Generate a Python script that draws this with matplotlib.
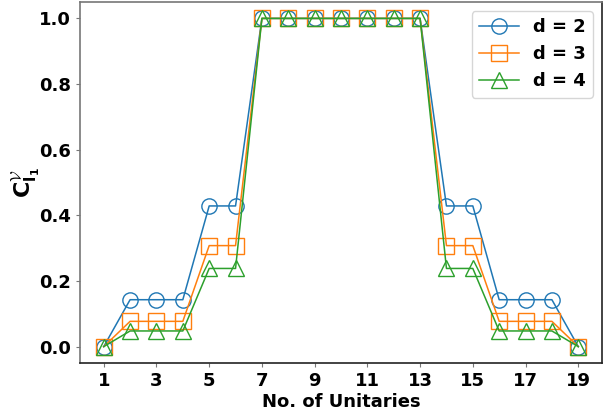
import matplotlib
matplotlib.use("Agg")
import matplotlib.pyplot as plt

x = list(range(1, 20))
d2 = [0, 1/7, 1/7, 1/7, 3/7, 3/7, 1, 1, 1, 1, 1, 1, 1, 3/7, 3/7, 1/7, 1/7, 1/7, 0]
d3 = [0, 1/13, 1/13, 1/13, 4/13, 4/13, 1, 1, 1, 1, 1, 1, 1, 4/13, 4/13, 1/13, 1/13, 1/13, 0]
d4 = [0, 1/21, 1/21, 1/21, 5/21, 5/21, 1, 1, 1, 1, 1, 1, 1, 5/21, 5/21, 1/21, 1/21, 1/21, 0]
labels = ["d = 2", "d = 3", "d = 4"]
xticks = [1, 3, 5, 7, 9, 11, 13, 15, 17, 19]
yticks = [0.0, 0.2, 0.4, 0.6, 0.8, 1.0]

plt.rcParams['font.weight'] = 'bold'
plt.rcParams['mathtext.fontset'] = 'custom'
plt.rcParams['mathtext.rm'] = 'DejaVu Sans'
plt.rcParams['mathtext.bf'] = 'DejaVu Sans:bold'
plt.rcParams['mathtext.it'] = 'DejaVu Sans:bold'
plt.rcParams['mathtext.cal'] = 'cmsy10'

fig = plt.figure(figsize=(6.13, 4.15), dpi=100)
ax = fig.add_axes([80/613, 1-363/415, (602-80)/613, 361/415])

ax.plot(x, d2, marker='o', color='#1f77b4', mfc='none', ms=11, lw=1.1, label=labels[0])
ax.plot(x, d3, marker='s', color='#ff7f0e', mfc='none', ms=11, lw=1.1, label=labels[1])
ax.plot(x, d4, marker='^', color='#2ca02c', mfc='none', ms=11, lw=1.1, label=labels[2])

ax.set_xticks(xticks)
ax.set_yticks(yticks)
ax.set_xticklabels([str(v) for v in xticks], fontsize=13, fontweight='bold')
ax.set_yticklabels([f"{v:.1f}" for v in yticks], fontsize=13, fontweight='bold')
ax.tick_params(length=3, color='#777777')
ax.set_xlabel("No. of Unitaries", fontsize=13, fontweight='bold', labelpad=2)
ax.set_ylabel(r'$\mathbf{C}_{\mathrm{l}_{1}}^{\mathcal{V}}$', fontsize=16)
ax.yaxis.set_label_coords(-0.072, 0.5)

for s in ['left', 'top']:
    ax.spines[s].set_color('#777777')
for s in ['right', 'bottom']:
    ax.spines[s].set_color('#222222')
for s in ax.spines.values():
    s.set_linewidth(1.2)

leg = ax.legend(loc='upper right', prop={'weight': 'bold', 'size': 13}, handlelength=2.2)

fig.savefig("out.png", dpi=100)
